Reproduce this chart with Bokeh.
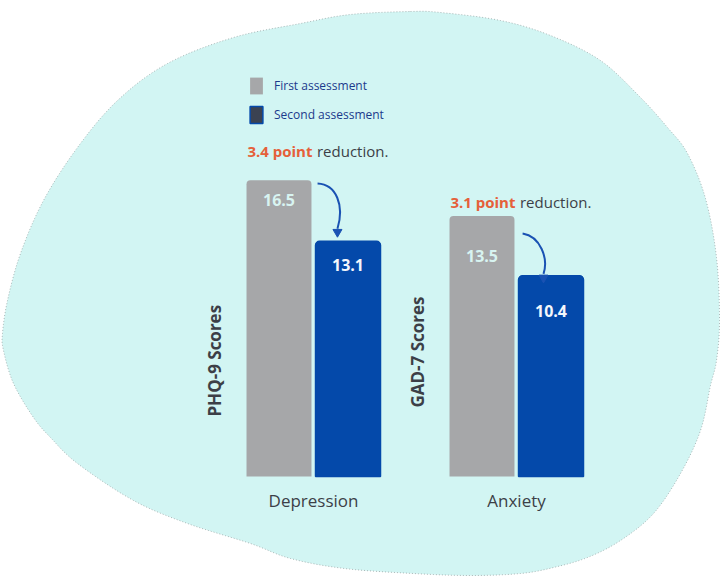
import numpy as np
from bokeh.plotting import figure
from bokeh.models import Range1d, ColumnDataSource, Legend, LegendItem
from bokeh.transform import dodge
from bokeh.core.properties import value
from bokeh.embed import file_html
from bokeh.resources import INLINE

# ---------------- data ----------------
categories = ["Depression", "Anxiety"]
first_assessment = [16.5, 13.5]
second_assessment = [13.1, 10.4]
scale_titles = ["PHQ-9 Scores", "GAD-7 Scores"]
series_labels = ["First assessment", "Second assessment"]

# ---------------- style ----------------
FONT = "Open Sans"
GREY = "#a6a7a9"
BLUE = "#0449aa"
ARROW = "#1a52b3"
BLOB = "#d2f5f3"
ORANGE = "#e5603a"
DARK = "#3c3f47"
LEGEND_TXT = "#1c3a8c"

# axes ranges (category index units on x; one value scale per category on y)
X_RANGE = (-1.5419, 2.0049)
range_names = ["default", "gad"]
y_ranges = [(-5.571, 26.518), (-5.181, 24.663)]
BAR_W = 0.32
DODGE = 0.17
value_label_offsets = [[20, 24], [40, 35]]      # px below bar tops
note_offsets = [29, 14]                         # px above first bar
category_label_offset = 24                      # px below baseline
# arrow geometry: x offsets (category units) and y (data units)
arrows = [
    dict(x0=0.020, y0=16.32, cx0=0.113, cy0=16.27, cx1=0.153, cy1=15.10, x1=0.118, y1=13.80, hy=13.62),
    dict(x0=0.030, y0=12.59, cx0=0.118, cy0=12.44, cx1=0.158, cy1=11.30, x1=0.133, y1=10.50, hy=10.30),
]
title_x = -0.49
title_y = 6.45

# decorative background blob outline (canvas pixels)
blob_pts = [(410, 11), (440, 12), (500, 20), (550, 35), (600, 60), (640, 97), (667, 127),
            (687, 153), (705, 198), (716, 257), (719, 320), (716, 360), (710, 385), (700, 430),
            (680, 473), (653, 513), (620, 540), (587, 557), (553, 567), (520, 573), (470, 575),
            (413, 573), (344, 568), (290, 558), (250, 543), (187, 523), (133, 500), (77, 463),
            (50, 437), (33, 417), (13, 383), (3, 350), (2, 333), (7, 300), (20, 253), (43, 200),
            (77, 147), (117, 100), (167, 63), (233, 37), (300, 23), (350, 14)]


def smooth_closed(pts, n=12):
    P = np.array(pts, dtype=float)
    m = len(P)
    out = []
    for i in range(m):
        p0, p1, p2, p3 = P[(i - 1) % m], P[i], P[(i + 1) % m], P[(i + 2) % m]
        for t in np.linspace(0, 1, n, endpoint=False):
            t2, t3 = t * t, t * t * t
            out.append(0.5 * ((2 * p1) + (-p0 + p2) * t + (2 * p0 - 5 * p1 + 4 * p2 - p3) * t2
                              + (-p0 + 3 * p1 - 3 * p2 + p3) * t3))
    out = np.array(out)
    return out[:, 0].tolist(), out[:, 1].tolist()


p = figure(width=720, height=576,
           x_range=Range1d(*X_RANGE), y_range=Range1d(*y_ranges[0]),
           x_axis_type=None, y_axis_type=None,
           output_backend="svg", toolbar_location=None, min_border=0)
p.extra_y_ranges = {"gad": Range1d(*y_ranges[1]), "cy": Range1d(576, 0)}
p.extra_x_ranges = {"cx": Range1d(0, 720)}

bx, by = smooth_closed(blob_pts)
p.patch(bx, by, fill_color=BLOB, line_color="#9aa6a6", line_alpha=0.8, line_width=1,
        line_dash="1 2", x_range_name="cx", y_range_name="cy")

first_renderer = None
swatch_renderer = None
for i, cat in enumerate(categories):
    yr = range_names[i]
    f, s = first_assessment[i], second_assessment[i]
    src = ColumnDataSource(dict(
        x=[i], cat=[cat], base=[0], first=[f], second=[s],
        first_txt=[f"{f:.1f}"], second_txt=[f"{s:.1f}"],
        note=[f"{f - s:.1f} point"], rest=["reduction."],
        title=[scale_titles[i]], ty=[title_y],
    ))
    r1 = p.vbar(x=dodge("x", -DODGE), top="first", width=BAR_W, source=src,
                fill_color=GREY, line_color=None, border_radius=(4, 4, 0, 0), y_range_name=yr)
    # legend-styled copy of the second bar, hidden directly beneath it
    sw = p.vbar(x=dodge("x", DODGE), top="second", width=BAR_W, source=src,
                fill_color="#3b4252", line_color=BLUE, line_width=1.5,
                border_radius=(4, 4, 0, 0), y_range_name=yr)
    p.vbar(x=dodge("x", DODGE), top="second", width=BAR_W, source=src,
           fill_color=BLUE, line_color=None, border_radius=(4, 4, 0, 0), y_range_name=yr)
    if first_renderer is None:
        first_renderer, swatch_renderer = r1, sw

    # value labels
    p.text(x=dodge("x", -DODGE), y="first", text="first_txt", source=src,
           y_offset=value_label_offsets[i][0], text_align="center", text_baseline="middle",
           text_font=value(FONT), text_font_style="bold", text_font_size="16px",
           text_color="#d8f4f1", y_range_name=yr)
    p.text(x=dodge("x", DODGE), y="second", text="second_txt", source=src,
           y_offset=value_label_offsets[i][1], text_align="center", text_baseline="middle",
           text_font=value(FONT), text_font_style="bold", text_font_size="16px",
           text_color="#f4f7fc", y_range_name=yr)

    # reduction note
    p.text(x=dodge("x", -0.005), y="first", text="note", source=src,
           y_offset=-note_offsets[i], text_align="right", text_baseline="middle",
           text_font=value(FONT), text_font_style="bold", text_font_size="15px",
           text_color=ORANGE, y_range_name=yr)
    p.text(x=dodge("x", 0.017), y="first", text="rest", source=src,
           y_offset=-note_offsets[i], text_align="left", text_baseline="middle",
           text_font=value(FONT), text_font_size="15px",
           text_color=DARK, y_range_name=yr)

    # scale title
    p.text(x=dodge("x", title_x), y="ty", text="title", source=src,
           angle=np.pi / 2, text_align="center", text_baseline="middle",
           text_font=value(FONT), text_font_style="bold", text_font_size="17px",
           text_color=DARK, y_range_name=yr)

    # category label
    p.text(x="x", y="base", text="cat", source=src, y_offset=category_label_offset,
           text_align="center", text_baseline="middle",
           text_font=value(FONT), text_font_size="17px", text_color=DARK, y_range_name=yr)

    # curved arrow
    a = arrows[i]
    asrc = ColumnDataSource(dict(x=[i], y0=[a["y0"]], cy0=[a["cy0"]], cy1=[a["cy1"]],
                                 y1=[a["y1"]], hy=[a["hy"]]))
    p.bezier(x0=dodge("x", a["x0"]), y0="y0", x1=dodge("x", a["x1"]), y1="y1",
             cx0=dodge("x", a["cx0"]), cy0="cy0", cx1=dodge("x", a["cx1"]), cy1="cy1",
             source=asrc, line_color=ARROW, line_width=2, y_range_name=yr)
    p.scatter(x=dodge("x", a["x1"]), y="hy", source=asrc,
              marker="inverted_triangle", size=9, fill_color=ARROW, line_color=ARROW,
              y_range_name=yr)

legend = Legend(items=[LegendItem(label=series_labels[0], renderers=[first_renderer]),
                       LegendItem(label=series_labels[1], renderers=[swatch_renderer])],
                location=(248, 451), glyph_width=16, glyph_height=21, label_height=21,
                label_standoff=10, spacing=8, padding=0, margin=0,
                border_line_alpha=0, background_fill_alpha=0,
                label_text_font=FONT, label_text_font_size="12px",
                label_text_color=LEGEND_TXT)
p.add_layout(legend)

p.grid.visible = False
p.outline_line_color = None
p.background_fill_color = "white"
p.border_fill_color = "white"

open("out.html", "w").write(file_html(p, INLINE))
